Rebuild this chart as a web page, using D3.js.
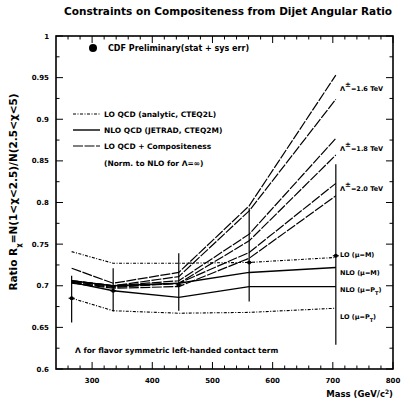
<!DOCTYPE html>
<html><head><meta charset="utf-8">
<script src="https://cdn.jsdelivr.net/npm/d3@7"></script>
<style>
body{margin:0;background:#fff;}
svg text{font-family:"DejaVu Sans",sans-serif;font-weight:bold;fill:#000;}
</style></head>
<body><svg id="c" width="402" height="406"></svg>
<script>
const masses = [266, 335, 444, 561, 705];
const dataVal = [0.685, 0.694, 0.701, 0.728, 0.736];
const dataLo  = [0.656, 0.669, 0.670, 0.681, 0.629];
const dataHi  = [0.712, 0.721, 0.739, 0.793, 0.846];
const loM   = [0.741, 0.727, 0.727, 0.728, 0.734];
const loPT  = [0.685, 0.670, 0.667, 0.668, 0.673];
const nloM  = [0.706, 0.700, 0.703, 0.716, 0.722];
const nloPT = [0.704, 0.694, 0.686, 0.699, 0.699];
const comp16a = [0.721, 0.703, 0.716, 0.796, 0.953];
const comp16b = [0.706, 0.700, 0.711, 0.790, 0.924];
const comp18a = [0.706, 0.700, 0.706, 0.762, 0.877];
const comp18b = [0.704, 0.698, 0.703, 0.754, 0.857];
const comp20a = [0.705, 0.699, 0.703, 0.740, 0.823];
const comp20b = [0.703, 0.697, 0.699, 0.733, 0.808];
const xTicks = [300, 400, 500, 600, 700, 800];
const yTicks = [0.6, 0.65, 0.7, 0.75, 0.8, 0.85, 0.9, 0.95, 1];
const yTickLabels = ["0.6","0.65","0.7","0.75","0.8","0.85","0.9","0.95","1"];

const svg = d3.select("#c");
const L = 56, R = 393, T = 36, B = 369;
const x = d3.scaleLinear().domain([240, 800]).range([L, R]);
const y = d3.scaleLinear().domain([0.6, 1]).range([B, T]);

// title
svg.append("text").attr("x", 228).attr("y", 15).attr("text-anchor", "middle")
  .attr("font-size", 10.5).text("Constraints on Compositeness from Dijet Angular Ratio");

// frame
svg.append("rect").attr("x", L).attr("y", T).attr("width", R - L).attr("height", B - T)
  .attr("fill", "none").attr("stroke", "#000").attr("stroke-width", 1.6);

// axes with inward ticks
const minorX = d3.range(260, 800, 20).filter(v => v % 100 !== 0);
const minorY = d3.range(0.625, 1, 0.05);
const g = svg.append("g").attr("stroke", "#000").attr("stroke-width", 1);
xTicks.forEach(v => {
  g.append("line").attr("x1", x(v)).attr("x2", x(v)).attr("y1", B).attr("y2", B - 7);
  g.append("line").attr("x1", x(v)).attr("x2", x(v)).attr("y1", T).attr("y2", T + 7);
});
minorX.forEach(v => {
  g.append("line").attr("x1", x(v)).attr("x2", x(v)).attr("y1", B).attr("y2", B - 3.5);
  g.append("line").attr("x1", x(v)).attr("x2", x(v)).attr("y1", T).attr("y2", T + 3.5);
});
yTicks.forEach(v => {
  g.append("line").attr("x1", L).attr("x2", L + 7).attr("y1", y(v)).attr("y2", y(v));
  g.append("line").attr("x1", R).attr("x2", R - 7).attr("y1", y(v)).attr("y2", y(v));
});
minorY.forEach(v => {
  g.append("line").attr("x1", L).attr("x2", L + 3.5).attr("y1", y(v)).attr("y2", y(v));
  g.append("line").attr("x1", R).attr("x2", R - 3.5).attr("y1", y(v)).attr("y2", y(v));
});
xTicks.forEach(v => {
  svg.append("text").attr("x", x(v)).attr("y", B + 14).attr("text-anchor", "middle")
    .attr("font-size", 7).text(v);
});
yTicks.forEach((v, i) => {
  svg.append("text").attr("x", L - 7).attr("y", y(v) + 2.5).attr("text-anchor", "end")
    .attr("font-size", 7).text(yTickLabels[i]);
});

// axis titles
svg.append("text").attr("x", R).attr("y", 397).attr("text-anchor", "end").attr("font-size", 8.5)
  .html('Mass (GeV/c<tspan baseline-shift="super" font-size="6">2</tspan>)');
svg.append("text").attr("transform", "translate(17,192) rotate(-90)").attr("text-anchor", "middle")
  .attr("font-size", 10.5)
  .html('Ratio R<tspan baseline-shift="sub" font-size="7">χ</tspan>=N(1&lt;χ&lt;2.5)/N(2.5&lt;χ&lt;5)');

// curves
const line = d3.line().x((d, i) => x(masses[i])).y(d => y(d));
function curve(arr, dash, w) {
  svg.append("path").datum(arr).attr("d", line).attr("fill", "none")
    .attr("stroke", "#000").attr("stroke-width", w).attr("stroke-dasharray", dash);
}
curve(loM, "3,1.5,1,1.5", 1.1);
curve(loPT, "3,1.5,1,1.5", 1.1);
curve(nloM, null, 1.4);
curve(nloPT, null, 1.4);
[comp16a, comp16b, comp18a, comp18b, comp20a, comp20b].forEach(c => curve(c, "10,1.5", 1.2));

// data
const dg = svg.append("g");
masses.forEach((m, i) => {
  dg.append("line").attr("x1", x(m)).attr("x2", x(m)).attr("y1", y(dataLo[i])).attr("y2", y(dataHi[i]))
    .attr("stroke", "#000").attr("stroke-width", 1.2);
  dg.append("line").attr("x1", x(m) - 3).attr("x2", x(m) + 3).attr("y1", y(dataVal[i])).attr("y2", y(dataVal[i]))
    .attr("stroke", "#000").attr("stroke-width", 1.2);
  dg.append("circle").attr("cx", x(m)).attr("cy", y(dataVal[i])).attr("r", 2).attr("fill", "#000");
});

// legend
svg.append("circle").attr("cx", 93).attr("cy", 48).attr("r", 4).attr("fill", "#000");
svg.append("text").attr("x", 108).attr("y", 51).attr("font-size", 8).text("CDF Preliminary(stat + sys err)");
const leg = [
  {t: "LO QCD (analytic, CTEQ2L)", dash: "3,1.5,1,1.5", w: 1.1, yy: 114},
  {t: "NLO QCD (JETRAD, CTEQ2M)", dash: null, w: 1.4, yy: 130},
  {t: "LO QCD + Compositeness", dash: "10,1.5", w: 1.2, yy: 146}
];
leg.forEach(d => {
  svg.append("line").attr("x1", 73).attr("x2", 100).attr("y1", d.yy).attr("y2", d.yy)
    .attr("stroke", "#000").attr("stroke-width", d.w).attr("stroke-dasharray", d.dash);
  svg.append("text").attr("x", 104).attr("y", d.yy + 3).attr("font-size", 7.5).text(d.t);
});
svg.append("text").attr("x", 104).attr("y", 166).attr("font-size", 7.5).text("(Norm. to NLO for Λ=∞)");

// right labels
function rl(yy, html) {
  svg.append("text").attr("x", 340).attr("y", yy + 3).attr("font-size", 6.5).html(html);
}
rl(88, 'Λ<tspan baseline-shift="super" font-size="7">±</tspan>=1.6 TeV');
rl(148, 'Λ<tspan baseline-shift="super" font-size="7">±</tspan>=1.8 TeV');
rl(188, 'Λ<tspan baseline-shift="super" font-size="7">±</tspan>=2.0 TeV');
rl(254, 'LO (μ=M)');
rl(272, 'NLO (μ=M)');
rl(289, 'NLO (μ=P<tspan baseline-shift="sub" font-size="5">T</tspan>)');
rl(316, 'LO (μ=P<tspan baseline-shift="sub" font-size="5">T</tspan>)');

svg.append("text").attr("x", 75).attr("y", 353).attr("font-size", 7.5)
  .text("Λ for flavor symmetric left-handed contact term");
</script></body></html>
